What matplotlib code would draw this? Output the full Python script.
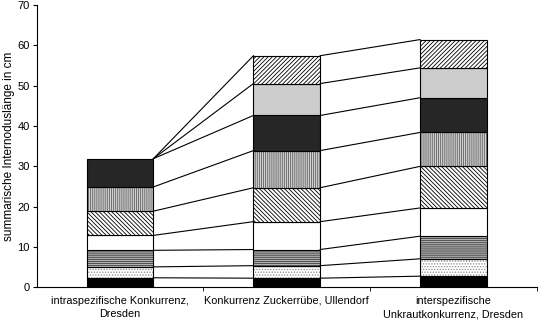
import matplotlib
matplotlib.use('Agg')
import matplotlib.pyplot as plt
import numpy as np

plt.rcParams['font.family'] = ['Liberation Sans', 'DejaVu Sans']
plt.rcParams['hatch.linewidth'] = 0.6

categories = ['intraspezifische Konkurrenz,\nDresden',
              'Konkurrenz Zuckerrübe, Ullendorf',
              'interspezifische\nUnkrautkonkurrenz, Dresden']

# segment heights per internode (bottom to top), one value per category
seg1 = [2.4, 2.3, 2.8]
seg2 = [2.7, 3.1, 4.3]
seg3 = [4.1, 4.0, 5.6]
seg4 = [3.7, 6.9, 7.0]
seg5 = [6.0, 8.4, 10.3]
seg6 = [6.0, 9.2, 8.4]
seg7 = [7.0, 8.7, 8.6]
seg8 = [0.0, 7.9, 7.4]
seg9 = [0.0, 6.9, 7.0]
segments = [seg1, seg2, seg3, seg4, seg5, seg6, seg7, seg8, seg9]

# (facecolor, hatch, hatch colour)
styles = [
    ('black', None, None),
    ('white', '......', '#888888'),
    ('#b0b0b0', '--------', '#404040'),
    ('white', None, None),
    ('white', '\\' * 8, 'black'),
    ('#d0d0d0', '|' * 8, '#606060'),
    ('#262626', None, None),
    ('#cccccc', None, None),
    ('white', '/' * 8, 'black'),
]

fig = plt.figure(figsize=(5.39, 3.23), dpi=100)
ax = fig.add_axes([0.068, 0.11, 0.928, 0.875])

x = np.arange(len(categories))
width = 0.4
bottom = np.zeros(len(categories))
for seg, (fc, hatch, hc) in zip(segments, styles):
    seg = np.array(seg)
    mask = seg > 0
    if hatch:
        # hatch takes the edge colour, so draw the fill and the outline apart
        ax.bar(x[mask], seg[mask], width, bottom=bottom[mask],
               facecolor=fc, edgecolor=hc, hatch=hatch, linewidth=0)
        ax.bar(x[mask], seg[mask], width, bottom=bottom[mask],
               facecolor='none', edgecolor='black', linewidth=0.8)
    else:
        ax.bar(x[mask], seg[mask], width, bottom=bottom[mask],
               facecolor=fc, edgecolor='black', linewidth=0.8)
    bottom = bottom + seg
    # connector lines between the tops of the segments
    for i in range(len(categories) - 1):
        ax.plot([x[i] + width / 2, x[i + 1] - width / 2],
                [bottom[i], bottom[i + 1]], color='black', lw=0.8)

ax.set_xlim(-0.5, 2.5)
ax.set_ylim(0, 70)
ax.set_yticks(range(0, 71, 10))
ax.set_xticks(x)
ax.set_xticklabels(categories, fontsize=7.8, linespacing=1.45)
ax.set_xticks([0.5, 1.5, 2.5], minor=True)
ax.tick_params(axis='x', which='major', length=0, pad=6)
ax.tick_params(axis='x', which='minor', length=3, direction='out')
ax.tick_params(axis='y', labelsize=8, length=3, direction='out', pad=2)
ax.set_ylabel('summarische Internodusl\u00e4nge in cm', fontsize=8.5, labelpad=2)
ax.spines['top'].set_visible(False)
ax.spines['right'].set_visible(False)

fig.savefig('out.png', dpi=100)
